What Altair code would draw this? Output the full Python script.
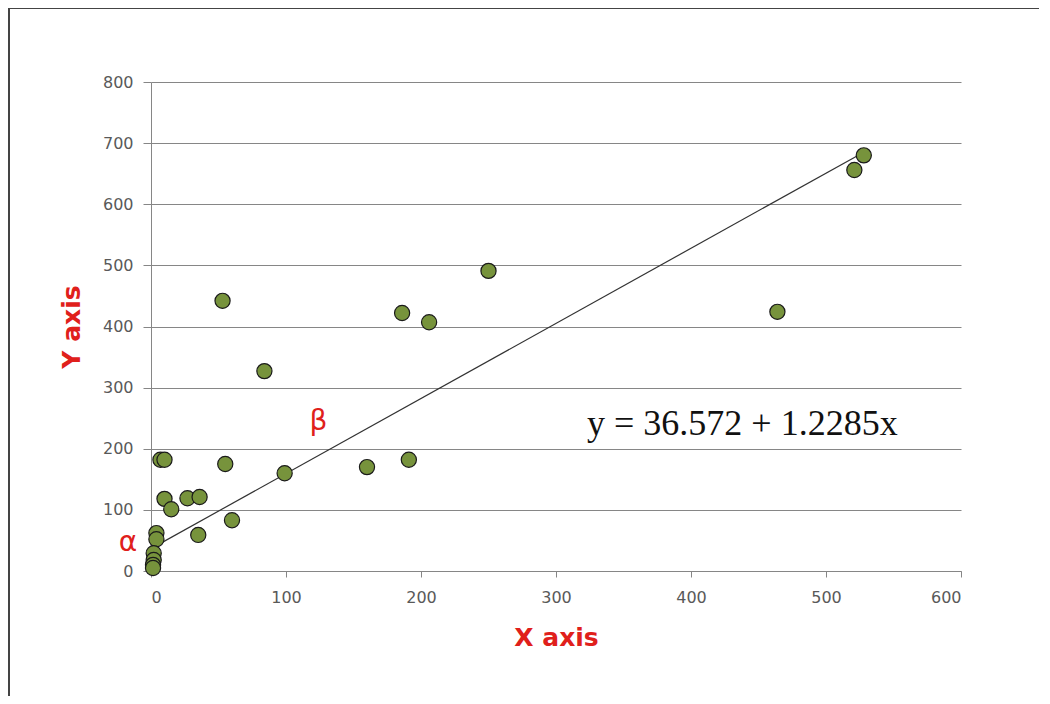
import altair as alt
import pandas as pd

xs = [528, 521, 464, 250, 186, 206, 53, 84, 55, 7, 10, 160, 191, 99,
      10, 15, 27, 36, 60, 35, 4, 4, 2, 2, 1.5, 1.5]
ys = [680, 656, 424, 491, 422, 407, 442, 327, 175, 182, 182, 170, 182, 160,
      118, 101, 119, 121, 83, 59, 62, 52, 29, 18, 10, 5]

intercept = 36.572
slope = 1.2285
line_x = [0, 528]

eq_text = ["y = 36.572 + 1.2285x"]
eq_pos = [323, 240]
alpha_pos = [-17, 46]
beta_pos = [124, 244]

df = pd.DataFrame({"x": xs, "y": ys})
line_df = pd.DataFrame({"x": line_x, "y": [intercept + slope * v for v in line_x]})

red = "#E0201B"
grey = "#868686"

xscale = alt.Scale(domain=[0, 600], nice=False, zero=False)
yscale = alt.Scale(domain=[0, 800], nice=False, zero=False)

xaxis = alt.Axis(values=[0, 100, 200, 300, 400, 500, 600], grid=False,
                 domainColor=grey, tickColor=grey, tickSize=6,
                 labelFont="DejaVu Sans", labelFontSize=16, labelColor="#595959",
                 labelPadding=12, title="X axis", titleFont="DejaVu Sans",
                 titleFontSize=25, titleFontWeight="bold", titleColor=red,
                 titlePadding=20)
yaxis = alt.Axis(values=[0, 100, 200, 300, 400, 500, 600, 700, 800], grid=True,
                 gridColor=grey, gridWidth=1, domainColor=grey, tickColor=grey,
                 tickSize=8, labelFont="DejaVu Sans", labelFontSize=16,
                 labelColor="#595959", labelPadding=10, title="Y axis",
                 titleFont="DejaVu Sans", titleFontSize=25,
                 titleFontWeight="bold", titleColor=red, titlePadding=18)

pts = alt.Chart(df).mark_circle(size=230, color="#77933C", stroke="#1a1a1a",
                                strokeWidth=1.2, opacity=1).encode(
    x=alt.X("x:Q", scale=xscale, axis=xaxis),
    y=alt.Y("y:Q", scale=yscale, axis=yaxis),
)

trend = alt.Chart(line_df).mark_line(color="#333333", strokeWidth=1.2).encode(
    x=alt.X("x:Q", scale=xscale), y=alt.Y("y:Q", scale=yscale))

eq = alt.Chart(pd.DataFrame({"x": [eq_pos[0]], "y": [eq_pos[1]], "t": eq_text})).mark_text(
    align="left", baseline="middle", font="Liberation Serif", fontSize=36, color="#111111"
).encode(x=alt.X("x:Q", scale=xscale), y=alt.Y("y:Q", scale=yscale), text="t:N")

greek = alt.Chart(pd.DataFrame({"x": [alpha_pos[0], beta_pos[0]],
                                "y": [alpha_pos[1], beta_pos[1]],
                                "t": ["α", "β"]})).mark_text(
    align="center", baseline="middle", font="DejaVu Sans", fontSize=28, color=red
).encode(x=alt.X("x:Q", scale=xscale), y=alt.Y("y:Q", scale=yscale), text="t:N")

border_top = alt.Chart(pd.DataFrame({"a": [0]})).mark_rule(color="#444444", strokeWidth=2).encode(
    x=alt.value(-143), x2=alt.value(900), y=alt.value(-74))
border_left = alt.Chart(pd.DataFrame({"a": [0]})).mark_rule(color="#444444", strokeWidth=2).encode(
    x=alt.value(-142), y=alt.value(-74), y2=alt.value(640))

chart = alt.layer(trend, pts, eq, greek, border_top, border_left).properties(
    width=810, height=489,
    autosize=alt.AutoSizeParams(type="none"),
    padding={"left": 143, "top": 74, "right": 78, "bottom": 125},
    background="white",
).configure_view(stroke=None)

chart.save("out.html", embed_options={"renderer": "svg", "actions": False})
